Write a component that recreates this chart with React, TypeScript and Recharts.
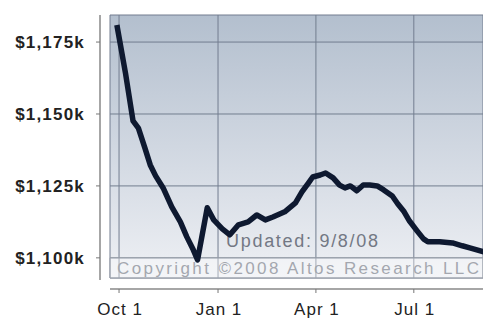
import React from 'react';
import { LineChart, Line, XAxis, YAxis, CartesianGrid, ReferenceArea, Customized } from 'recharts';

// days counted from Oct 1 2007, prices in $k
const DAYS = [-2, 6, 13, 18, 24, 29, 34, 41, 49, 57, 63, 69, 73, 82, 88, 96, 103, 111, 120, 128, 136, 143, 154, 164, 170, 176, 180, 187, 192, 199, 205, 210, 215, 221, 227, 233, 240, 246, 254, 259, 265, 270, 277, 283, 287, 298, 310, 319, 326, 339];
const PRICES = [1180.9, 1164.2, 1147.6, 1145.1, 1138.2, 1132.3, 1128.5, 1124.3, 1117.7, 1112.5, 1107.3, 1102.8, 1099.3, 1117.4, 1113.2, 1110.1, 1108.0, 1111.5, 1112.5, 1114.9, 1113.2, 1114.2, 1116.0, 1119.1, 1122.9, 1126.0, 1128.1, 1128.8, 1129.5, 1127.8, 1125.3, 1124.3, 1125.0, 1123.3, 1125.3, 1125.3, 1125.0, 1123.6, 1121.5, 1118.8, 1116.0, 1112.8, 1109.4, 1106.6, 1105.6, 1105.6, 1105.2, 1104.2, 1103.5, 1102.1];

const X_TICKS = [0, 92, 183, 274];
const X_LABELS = ['Oct 1', 'Jan 1', 'Apr 1', 'Jul 1'];
const Y_TICKS = [1100, 1125, 1150, 1175];

const data = DAYS.map((d, i) => ({ day: d, price: PRICES[i] }));

const W = 483;
const H = 318;
const PLOT = { left: 110, top: 15, right: 483, bottom: 278 };

const fmtY = (v: number) => `$${Math.floor(v / 1000)},${String(v % 1000).padStart(3, '0')}k`;

const YTick = (props: any) => {
  const { y, payload } = props;
  return (
    <g>
      <line x1={PLOT.left - 14} x2={PLOT.left - 10} y1={y} y2={y} stroke="#777" />
      <text x={PLOT.left - 25} y={y} dy={6} textAnchor="end" fontSize={17} fontWeight="bold" letterSpacing={1.2} fill="#222">
        {fmtY(payload.value)}
      </text>
    </g>
  );
};

const XTick = (props: any) => {
  const { x, payload } = props;
  const i = X_TICKS.indexOf(payload.value);
  return (
    <g>
      <line x1={x} x2={x} y1={PLOT.bottom + 11} y2={PLOT.bottom + 15} stroke="#777" />
      <text x={x + 1} y={PLOT.bottom + 37} textAnchor="middle" fontSize={17} letterSpacing={1} fill="#222">
        {X_LABELS[i]}
      </text>
    </g>
  );
};

const Decor = () => (
  <g>
    <line x1={PLOT.left - 10} x2={PLOT.left - 10} y1={PLOT.top} y2={PLOT.bottom + 2} stroke="#888" strokeWidth={1.5} />
    <line x1={PLOT.left} x2={PLOT.right} y1={PLOT.bottom + 11} y2={PLOT.bottom + 11} stroke="#888" strokeWidth={1.5} />
    <text x={226} y={247} fontSize={18} fill="#737884" textLength={152} lengthAdjust="spacing">
      Updated: 9/8/08
    </text>
    <text x={117} y={274} fontSize={17} fill="#737884" textLength={362} lengthAdjust="spacing">
      Copyright ©2008 Altos Research LLC
    </text>
  </g>
);

export default function App() {
  return (
    <div style={{ position: 'absolute', left: 0, top: 0, width: W, height: H, background: '#fff', fontFamily: 'Liberation Sans, Arial, sans-serif' }}>
      <LineChart width={W} height={H} data={data} margin={{ top: PLOT.top, right: 0, bottom: 0, left: 0 }}>
        <defs>
          <linearGradient id="bg" x1="0" y1="0" x2="0" y2="1">
            <stop offset="0%" stopColor="#b3bfce" />
            <stop offset="50%" stopColor="#d0d7e1" />
            <stop offset="100%" stopColor="#eef0f4" />
          </linearGradient>
        </defs>
        <CartesianGrid fill="url(#bg)" fillOpacity={1} stroke="#727d8f" strokeWidth={1} />
        <XAxis
          dataKey="day"
          type="number"
          domain={[-8.4, 338.3]}
          ticks={X_TICKS}
          axisLine={false}
          tickLine={false}
          tick={<XTick />}
          height={40}
          allowDataOverflow
        />
        <YAxis
          type="number"
          domain={[1093, 1184.4]}
          ticks={Y_TICKS}
          axisLine={false}
          tickLine={false}
          tick={<YTick />}
          width={110}
          allowDataOverflow
        />
        <ReferenceArea y1={1093} y2={1100} fill="#ffffff" fillOpacity={0.35} stroke="#9aa0aa" strokeWidth={1} />
        <Customized component={Decor} />
        <Line
          dataKey="price"
          type="linear"
          stroke="#0e1930"
          strokeWidth={5.5}
          strokeLinejoin="round"
          dot={false}
          isAnimationActive={false}
        />
      </LineChart>
    </div>
  );
}
